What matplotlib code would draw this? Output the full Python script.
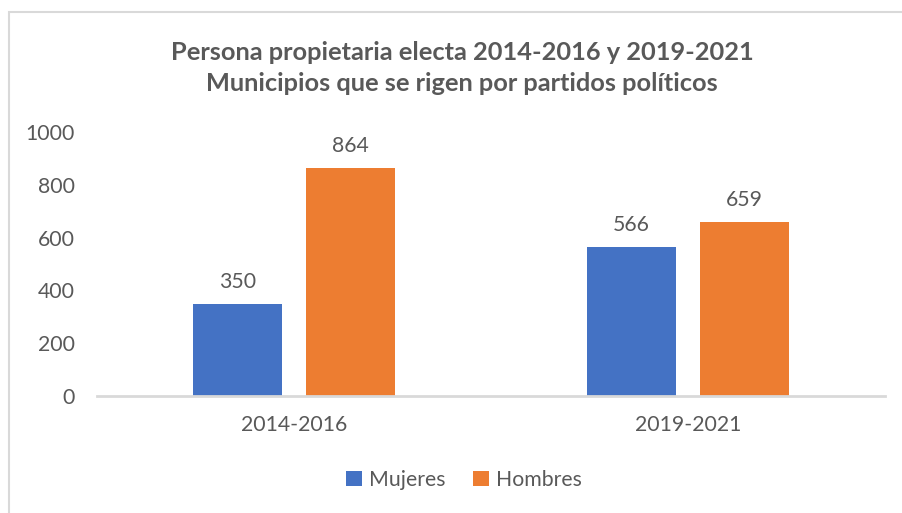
import numpy as np
import matplotlib
matplotlib.use("Agg")
import matplotlib.pyplot as plt
from matplotlib.patches import Rectangle

# datos
periodos = ["2014-2016", "2019-2021"]
mujeres = [350, 566]
hombres = [864, 659]
titulo = "Persona propietaria electa 2014-2016 y 2019-2021\nMunicipios que se rigen por partidos políticos"

plt.rcParams['font.family'] = ['Lato', 'DejaVu Sans']
gris = '#595959'

fig = plt.figure(figsize=(9.02, 5.13), dpi=100)
# marco del gráfico
fig.patches.append(Rectangle((9/902, -0.1), 1.2, (513-12)/513 + 0.1, transform=fig.transFigure,
                             fill=False, edgecolor='#d9d9d9', linewidth=1.5))

ax = fig.add_axes([97/902, 117/513, 788/902, 264/513])
x = np.arange(len(periodos))
w = 0.226
off = 0.143
b1 = ax.bar(x - off, mujeres, w, color='#4472C4', label='Mujeres')
b2 = ax.bar(x + off, hombres, w, color='#ED7D31', label='Hombres')
for bars, vals in [(b1, mujeres), (b2, hombres)]:
    for r, v in zip(bars, vals):
        ax.text(r.get_x() + r.get_width()/2, v + 45, str(v), ha='center', va='bottom',
                fontsize=15.3, color=gris)

ax.set_xlim(-0.5, 1.5)
ax.set_ylim(0, 1000)
ax.set_yticks(range(0, 1001, 200))
ax.set_xticks(x)
ax.set_xticklabels(periodos)
ax.tick_params(axis='both', length=0, labelsize=15.3, labelcolor=gris)
ax.tick_params(axis='y', pad=16)
ax.tick_params(axis='x', pad=14)
for s in ['top', 'right', 'left']:
    ax.spines[s].set_visible(False)
ax.spines['bottom'].set_color('#d9d9d9')
ax.spines['bottom'].set_linewidth(2)

fig.text(462/902, 1 - 68/513, titulo, ha='center', va='center', fontsize=18.3,
         fontweight='bold', color=gris, linespacing=1.45)

fig.legend(loc='center', bbox_to_anchor=(464/902, 1 - 480/513), ncol=2, frameon=False,
           fontsize=15.3, labelcolor=gris, handlelength=0.75, handleheight=0.75,
           handletextpad=0.35, columnspacing=1.3)

plt.savefig('out.png', dpi=100)
